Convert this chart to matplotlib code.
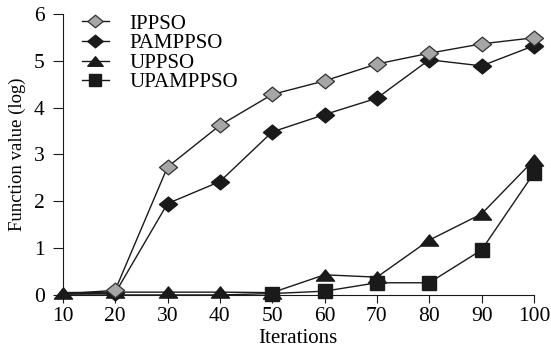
import matplotlib
matplotlib.use("Agg")
import matplotlib.pyplot as plt
from matplotlib.path import Path

iterations = [10, 20, 30, 40, 50, 60, 70, 80, 90, 100]
ippso = [0.02, 0.10, 2.73, 3.62, 4.28, 4.57, 4.93, 5.16, 5.36, 5.49]
pamppso = [0.02, 0.04, 1.95, 2.42, 3.48, 3.85, 4.20, 5.02, 4.89, 5.32]
uppso = [0.05, 0.06, 0.06, 0.06, 0.05, 0.43, 0.38, 1.17, 1.73, 2.88]
upamppso = [0.0, 0.0, 0.0, 0.0, 0.03, 0.08, 0.26, 0.26, 0.96, 2.60]

plt.rcParams["font.family"] = ["Liberation Serif", "DejaVu Serif"]
fig = plt.figure(figsize=(5.51, 3.47), dpi=100)
ax = fig.add_axes([0.114, 0.150, 0.855, 0.810])

# wide diamond and flat triangle like the original
diamond = Path([(-1, 0), (0, 0.82), (1, 0), (0, -0.82), (-1, 0)],
               [Path.MOVETO, Path.LINETO, Path.LINETO, Path.LINETO, Path.CLOSEPOLY])
tri = Path([(-1, -0.62), (1, -0.62), (0, 0.62), (-1, -0.62)],
           [Path.MOVETO, Path.LINETO, Path.LINETO, Path.CLOSEPOLY])

K = "#1a1a1a"
skip_first = list(range(1, len(iterations)))  # first diamonds sit hidden under the triangle
sq_shown = list(range(4, len(iterations)))    # early squares are covered in the original
ax.plot(iterations, upamppso, color=K, lw=1, marker="s", ms=10, mfc=K, mec=K, markevery=sq_shown,
        label="UPAMPPSO", zorder=2, clip_on=False)
ax.plot(iterations, uppso, color=K, lw=1, marker=tri, ms=13, mfc=K, mec=K, label="UPPSO", zorder=3,
        clip_on=False)
ax.plot(iterations, pamppso, color=K, lw=1, marker=diamond, ms=13, mfc=K, mec=K, markevery=skip_first,
        label="PAMPPSO", zorder=4, clip_on=False)
ax.plot(iterations, ippso, color=K, lw=1, marker=diamond, ms=13, mfc="#a6a6a6", mec="#333333", mew=0.9,
        markevery=skip_first, label="IPPSO", zorder=5, clip_on=False)

ax.set_xlim(10, 100)
ax.set_ylim(0, 6)
ax.set_xticks(iterations)
ax.set_yticks(range(7))
ax.spines["top"].set_visible(False)
ax.spines["right"].set_visible(False)
ax.spines["left"].set_color(K)
ax.spines["bottom"].set_color(K)
ax.tick_params(axis="x", direction="out", length=6, labelsize=15.5, pad=3, color=K)
ax.tick_params(axis="y", direction="out", length=7, labelsize=15.5, pad=6, color=K)
ax.set_xlabel("Iterations", fontsize=15, labelpad=2)
ax.set_ylabel("Function value (log)", fontsize=13.5, labelpad=6)

h, l = ax.get_legend_handles_labels()
ax.legend(h[::-1], l[::-1], loc="upper left", bbox_to_anchor=(0.0, 1.066), frameon=False,
          fontsize=15, handlelength=1.3, labelspacing=0.0, handletextpad=1.0, markerscale=0.85)

for t in ax.get_xticklabels() + ax.get_yticklabels():
    t.set_clip_on(False)

fig.savefig("out.png", dpi=100)
